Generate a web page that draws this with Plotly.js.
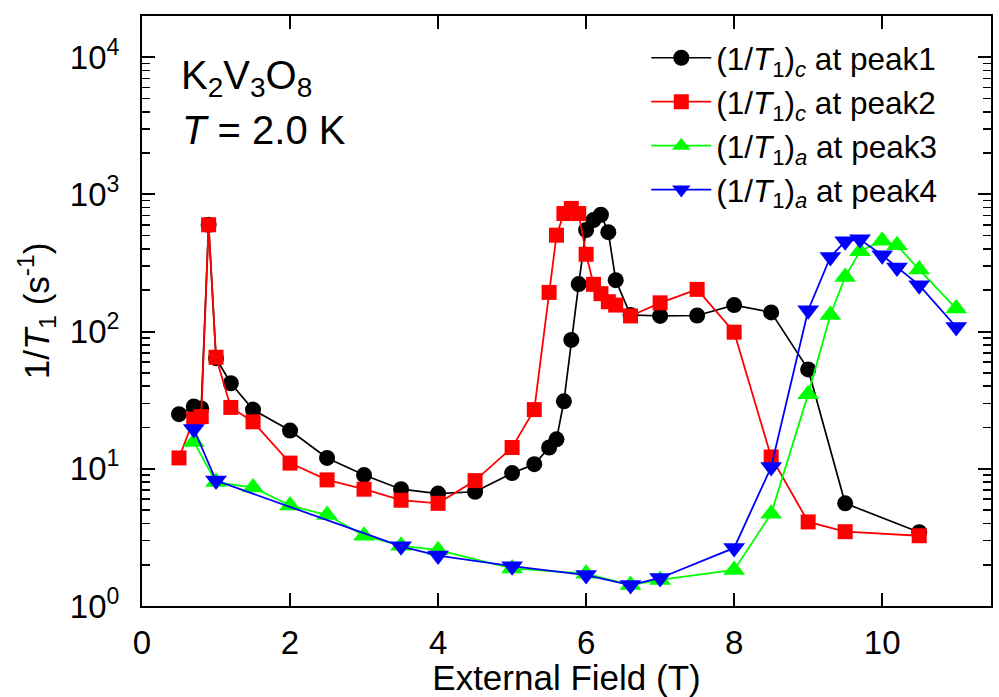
<!DOCTYPE html>
<html>
<head>
<meta charset="utf-8">
<script src="https://cdn.plot.ly/plotly-3.0.1.min.js"></script>
<style>
  html, body { margin: 0; padding: 0; background: #fff; }
  #chart { width: 999px; height: 697px; }
</style>
</head>
<body>
<div id="chart"></div>
<script>
// 1/T1 versus external field for K2V3O8 at T = 2.0 K
const fieldPeak1 = [0.5, 0.7, 0.8, 0.9, 1.0, 1.2, 1.5, 2.0, 2.5, 3.0, 3.5, 4.0, 4.5, 5.0, 5.3, 5.5, 5.6, 5.7, 5.8, 5.9, 6.0, 6.1, 6.2, 6.3, 6.4, 6.6, 7.0, 7.5, 8.0, 8.5, 9.0, 9.5, 10.5];
const ratePeak1  = [25, 28.5, 27.5, 600, 64, 42, 27, 19, 12, 9.0, 7.1, 6.6, 6.8, 9.3, 10.8, 14.3, 16.4, 31, 87, 222, 550, 650, 710, 530, 237, 132, 130, 131, 156, 138, 53, 5.6, 3.45];

const fieldPeak2 = [0.5, 0.7, 0.8, 0.9, 1.0, 1.2, 1.5, 2.0, 2.5, 3.0, 3.5, 4.0, 4.5, 5.0, 5.3, 5.5, 5.6, 5.7, 5.8, 5.9, 6.0, 6.1, 6.2, 6.3, 6.4, 6.6, 7.0, 7.5, 8.0, 8.5, 9.0, 9.5, 10.5];
const ratePeak2  = [12, 23, 24, 600, 65, 28, 22, 11, 8.3, 7.1, 5.9, 5.6, 8.2, 14.3, 27, 193, 504, 725, 790, 725, 366, 221, 189, 165, 156, 130, 162, 203, 99, 12.2, 4.1, 3.48, 3.25];

const fieldPeak3 = [0.7, 1.0, 1.5, 2.0, 2.5, 3.0, 3.5, 4.0, 5.0, 6.0, 6.6, 7.0, 8.0, 8.5, 9.0, 9.3, 9.5, 9.7, 10.0, 10.2, 10.5, 11.0];
const ratePeak3  = [15.7, 8.0, 7.3, 5.4, 4.6, 3.25, 2.75, 2.55, 1.88, 1.72, 1.42, 1.55, 1.83, 4.7, 35, 132, 250, 385, 460, 425, 283, 147];

const fieldPeak4 = [0.7, 1.0, 3.5, 4.0, 5.0, 6.0, 6.6, 7.0, 8.0, 8.5, 9.0, 9.3, 9.5, 9.7, 10.0, 10.2, 10.5, 11.0];
const ratePeak4  = [19.5, 8.2, 2.72, 2.33, 1.95, 1.68, 1.42, 1.6, 2.65, 10.3, 143, 350, 455, 470, 360, 293, 218, 108];

const seriesNames = [
  '(1/<i>T</i><sub>1</sub>)<sub><i>c</i></sub> at peak1',
  '(1/<i>T</i><sub>1</sub>)<sub><i>c</i></sub> at peak2',
  '(1/<i>T</i><sub>1</sub>)<sub><i>a</i></sub> at peak3',
  '(1/<i>T</i><sub>1</sub>)<sub><i>a</i></sub> at peak4'
];

const xTicks = [0, 2, 4, 6, 8, 10];
const yDecades = [0, 1, 2, 3, 4];

const FONT = 'Liberation Sans, Arial, Helvetica, sans-serif';

const yTickVals = yDecades.map(p => Math.pow(10, p));
const yTickText = yDecades.map(p => '10<sup>' + p + '</sup>');

function series(x, y, name, color, symbol, size, width) {
  return {
    x: x, y: y, name: name, type: 'scatter', mode: 'lines+markers',
    line: { color: color, width: width },
    marker: { color: color, symbol: symbol, size: size, line: { width: 0 } }
  };
}

const data = [
  series(fieldPeak1, ratePeak1, seriesNames[0], '#000000', 'circle', 16, 1.7),
  series(fieldPeak2, ratePeak2, seriesNames[1], '#ff0000', 'square', 15, 1.8),
  series(fieldPeak3, ratePeak3, seriesNames[2], '#00ff00', 'triangle-up', 19, 1.8),
  series(fieldPeak4, ratePeak4, seriesNames[3], '#0000ff', 'triangle-down', 19, 1.8)
];

const layout = {
  width: 999, height: 697,
  margin: { l: 142, r: 8, t: 16, b: 91 },
  paper_bgcolor: '#ffffff', plot_bgcolor: '#ffffff',
  font: { family: FONT, color: '#000', size: 32 },
  showlegend: true,
  legend: {
    x: 0.594, y: 0.975, xanchor: 'left', yanchor: 'top',
    bgcolor: 'rgba(0,0,0,0)', borderwidth: 0,
    font: { family: FONT, size: 31.5, color: '#000' },
    itemwidth: 60, tracegroupgap: 0
  },
  xaxis: {
    range: [0, 11.47],
    tickmode: 'array', tickvals: xTicks,
    ticks: 'inside', ticklen: 13, tickwidth: 2, tickcolor: '#000',
    showline: true, linewidth: 2, linecolor: '#000', mirror: 'ticks',
    showgrid: false, zeroline: false,
    tickfont: { family: FONT, size: 33 },
    ticklabelstandoff: 6,
    title: { text: 'External Field (T)', font: { family: FONT, size: 35 }, standoff: 8 }
  },
  yaxis: {
    type: 'log', range: [0, 4.3],
    tickmode: 'array', tickvals: yTickVals, ticktext: yTickText,
    ticks: 'inside', ticklen: 13, tickwidth: 2, tickcolor: '#000',
    minor: { ticks: 'inside', ticklen: 8, tickwidth: 1.6, tickcolor: '#000', dtick: 'D1', showgrid: false },
    showline: true, linewidth: 2, linecolor: '#000', mirror: 'ticks',
    showgrid: false, zeroline: false,
    tickfont: { family: FONT, size: 33 },
    ticklabelstandoff: 14,
    title: { text: '1/<i>T</i><sub>1</sub> (s<sup>-1</sup>)', font: { family: FONT, size: 35 }, standoff: 10 }
  },
  annotations: [
    { text: 'K<sub>2</sub>V<sub>3</sub>O<sub>8</sub>', xref: 'paper', yref: 'paper',
      x: 0.043, y: 0.895, xanchor: 'left', yanchor: 'middle', showarrow: false,
      font: { family: FONT, size: 40 } },
    { text: '<i>T</i> = 2.0 K', xref: 'paper', yref: 'paper',
      x: 0.045, y: 0.807, xanchor: 'left', yanchor: 'middle', showarrow: false,
      font: { family: FONT, size: 40 } }
  ]
};

Plotly.newPlot('chart', data, layout, { displayModeBar: false, staticPlot: true });
</script>
</body>
</html>
